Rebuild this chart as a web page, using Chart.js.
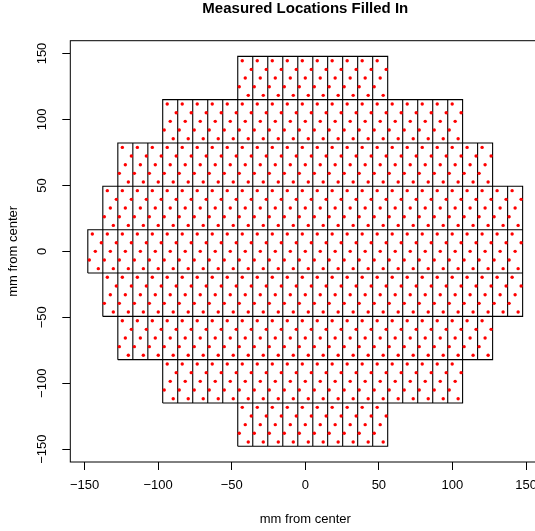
<!DOCTYPE html>
<html>
<head>
<meta charset="utf-8">
<title>Measured Locations Filled In</title>
<script src="https://cdn.jsdelivr.net/npm/chart.js@4.4.1/dist/chart.umd.min.js"></script>
<style>
  html, body { margin: 0; padding: 0; background: #fff; overflow: hidden; }
  #wrap { width: 545px; height: 531px; }
</style>
</head>
<body>
<div id="wrap"><canvas id="chart" width="545" height="531"></canvas></div>
<script>
// field grid on the wafer, mm from center
const colEdges = [-147.8, -137.6, -127.4, -117.2, -107.0, -96.9, -86.7, -76.5, -66.3, -56.1,
  -45.9, -35.7, -25.5, -15.3, -5.1, 5.1, 15.2, 25.4, 35.6, 45.8,
  56.0, 66.2, 76.4, 86.6, 96.8, 106.9, 117.1, 127.3, 137.5, 147.7];
const rowEdges = [-147.8, -115.0, -82.1, -49.3, -16.4, 16.4, 49.3, 82.1, 115.0, 147.8];

// first / last field column used in each row, bottom row first
const rowFirstCol = [10, 5, 2, 1, 0, 1, 2, 5, 10];
const rowLastCol = [19, 24, 26, 28, 28, 28, 26, 24, 19];

// measured spots inside each field, as a fraction of its width / height
const siteFracX = [0.3, 0.9, 0.5, 0.1, 0.7];
const siteFracY = [0.9, 0.7, 0.5, 0.3, 0.1];

const xTicks = [-150, -100, -50, 0, 50, 100, 150];
const yTicks = [-150, -100, -50, 0, 50, 100, 150];
const axisMin = -159.7;
const axisMax = 159.7;

const titleText = 'Measured Locations Filled In';
const axisTitle = 'mm from center';
const FONT = '"Liberation Sans", Arial, Helvetica, sans-serif';

const fieldLines = [];
const sites = [];
rowFirstCol.forEach((first, r) => {
  const y0 = rowEdges[r], y1 = rowEdges[r + 1];
  for (let c = first; c <= rowLastCol[r]; c++) {
    const x0 = colEdges[c], x1 = colEdges[c + 1];
    fieldLines.push({x: x0, y: y0}, {x: x1, y: y0}, {x: x1, y: y1}, {x: x0, y: y1}, {x: x0, y: y0}, {x: x0, y: null});
    siteFracX.forEach((fx, i) => {
      sites.push({x: x0 + fx * (x1 - x0), y: y0 + siteFracY[i] * (y1 - y0)});
    });
  }
});

const fmt = v => String(v).replace('-', '\u2212');

// box, rotated y labels and main title, R style
const rFrame = {
  id: 'rFrame',
  afterDraw(c) {
    const {ctx, chartArea: a, scales} = c;
    ctx.save();
    ctx.strokeStyle = '#000';
    ctx.lineWidth = 1;
    ctx.strokeRect(a.left, a.top, a.right - a.left, a.bottom - a.top);

    ctx.fillStyle = '#000';
    ctx.textAlign = 'center';
    ctx.textBaseline = 'middle';
    ctx.font = '13px ' + FONT;
    yTicks.forEach(v => {
      ctx.save();
      ctx.translate(a.left - 28, scales.y.getPixelForValue(v));
      ctx.rotate(-Math.PI / 2);
      ctx.fillText(fmt(v), 0, 0);
      ctx.restore();
    });

    ctx.font = 'bold 15px ' + FONT;
    ctx.fillText(titleText, (a.left + a.right) / 2, 9);
    ctx.restore();
  }
};

new Chart(document.getElementById('chart'), {
  type: 'scatter',
  data: {
    datasets: [
      {
        label: 'sites',
        data: sites,
        order: 0,
        pointRadius: 1.7,
        pointBackgroundColor: '#ff0000',
        pointBorderWidth: 0
      },
      {
        label: 'fields',
        data: fieldLines,
        order: 1,
        showLine: true,
        spanGaps: false,
        borderColor: '#000',
        borderWidth: 1.1,
        pointRadius: 0,
        tension: 0,
        fill: false
      }
    ]
  },
  options: {
    responsive: false,
    animation: false,
    events: [],
    layout: { padding: { top: 40.7, right: 4.6, left: 0, bottom: 0 } },
    plugins: {
      legend: { display: false },
      tooltip: { enabled: false }
    },
    scales: {
      x: {
        type: 'linear',
        min: axisMin,
        max: axisMax,
        afterBuildTicks: s => { s.ticks = xTicks.map(v => ({value: v})); },
        afterFit: s => { s.height = 69; },
        border: { display: false },
        grid: { drawOnChartArea: false, drawTicks: true, tickLength: 8, tickColor: '#000' },
        ticks: {
          color: '#000',
          font: { family: FONT, size: 13 },
          padding: 8,
          maxRotation: 0,
          autoSkip: false,
          callback: v => fmt(v)
        },
        title: {
          display: true,
          text: axisTitle,
          color: '#000',
          font: { family: FONT, size: 13 },
          padding: { top: 0, bottom: 4 }
        }
      },
      y: {
        type: 'linear',
        min: axisMin,
        max: axisMax,
        afterBuildTicks: s => { s.ticks = yTicks.map(v => ({value: v})); },
        afterFit: s => { s.width = 70.3; },
        border: { display: false },
        grid: { drawOnChartArea: false, drawTicks: true, tickLength: 8, tickColor: '#000' },
        ticks: { display: false },
        title: {
          display: true,
          text: axisTitle,
          color: '#000',
          font: { family: FONT, size: 13 },
          padding: { top: 6, bottom: 0 }
        }
      }
    }
  },
  plugins: [rFrame]
});
</script>
</body>
</html>
